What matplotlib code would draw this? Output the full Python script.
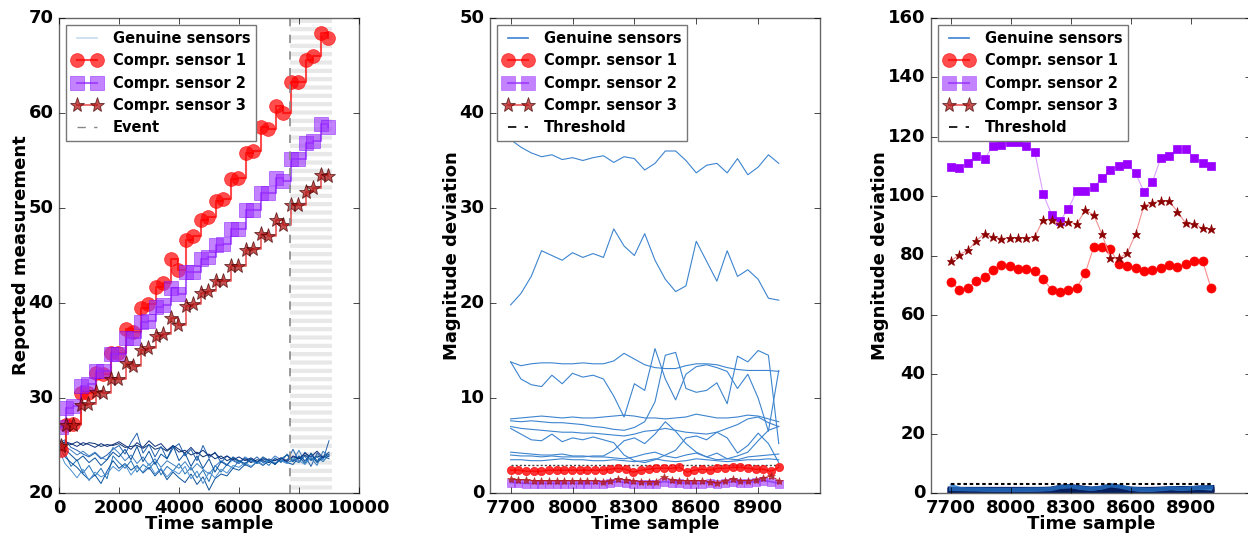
import numpy as np
import matplotlib
matplotlib.use("Agg")
import matplotlib.pyplot as plt
from matplotlib.lines import Line2D

plt.style.use("classic")
plt.rcParams["figure.facecolor"] = "white"
plt.rcParams["savefig.facecolor"] = "white"
plt.rcParams["font.family"] = ["DejaVu Sans"]
plt.rcParams["font.weight"] = "bold"
plt.rcParams["axes.labelweight"] = "bold"
plt.rcParams["hatch.linewidth"] = 3.0
plt.rcParams["axes.edgecolor"] = "#666666"

# ---- panel 1: reported measurement over the whole run ----
t_gen = np.arange(0, 9001, 200)
gen1 = [
    [24.6, 25.3, 25.1, 25.4, 25.0, 25.3, 25.2, 24.9, 25.1, 25.0,
     25.2, 24.8, 24.9, 25.0, 24.7, 25.1, 24.6, 24.8, 24.4, 24.9,
     24.3, 24.5, 24.0, 24.3, 23.8, 24.1, 23.6, 23.9, 23.4, 23.7,
     23.3, 23.6, 23.2, 23.5, 23.4, 23.2, 23.6, 23.3, 23.5, 23.8,
     23.6, 24.0, 23.5, 23.9, 23.7, 24.1],
    [25.8, 24.2, 22.8, 23.5, 22.1, 22.9, 21.8, 22.6, 21.5, 23.9,
     23.2, 22.6, 23.4, 22.2, 23.0, 22.5, 23.3, 21.9, 22.8, 22.3,
     23.1, 22.0, 22.7, 21.6, 22.4, 21.2, 22.9, 22.2, 23.0, 22.6,
     23.4, 22.9, 23.6, 23.1, 23.4, 22.9, 23.7, 23.2, 24.1, 23.5,
     23.2, 24.3, 23.4, 23.8, 23.3, 24.0],
    [25.2, 25.6, 24.8, 24.5, 24.1, 23.8, 24.2, 23.6, 24.0, 24.6,
     25.0, 24.1, 25.3, 26.3, 24.2, 25.1, 23.8, 24.9, 23.6, 24.7,
     25.2, 23.9, 24.6, 23.4, 25.0, 23.7, 24.3, 23.2, 23.9, 23.4,
     23.1, 23.7, 23.3, 23.8, 23.2, 23.6, 23.0, 23.7, 23.4, 24.6,
     23.3, 23.9, 22.8, 24.2, 23.5, 25.5],
    [24.9, 23.8, 23.2, 22.7, 22.0, 21.4, 21.9, 21.0, 22.3, 23.4,
     22.6, 23.1, 22.4, 22.9, 22.1, 22.7, 21.8, 22.5, 21.4, 22.2,
     21.6, 21.1, 22.0, 20.9, 21.7, 20.3, 21.5, 22.0, 21.8, 22.6,
     22.4, 23.0, 22.7, 23.3, 22.9, 23.4, 23.1, 23.5, 23.2, 23.0,
     23.8, 23.1, 24.2, 23.4, 23.9, 23.6],
    [24.3, 24.9, 24.5, 24.0, 24.4, 23.9, 24.3, 23.7, 23.5, 24.8,
     24.2, 23.4, 24.0, 23.1, 23.8, 22.9, 23.6, 22.7, 23.4, 23.0,
     22.6, 23.3, 22.4, 23.1, 22.5, 22.0, 22.8, 23.4, 23.0, 23.5,
     23.2, 23.8, 23.4, 23.1, 23.6, 23.3, 23.9, 23.5, 23.2, 23.4,
     24.5, 23.2, 23.7, 22.9, 24.4, 23.8],
    [25.0, 25.4, 25.2, 24.9, 25.3, 25.1, 24.8, 25.2, 24.9, 25.1,
     25.4, 25.0, 24.6, 25.3, 24.8, 25.5, 24.9, 25.2, 24.5, 25.0,
     24.6, 24.2, 24.8, 24.1, 24.5, 23.9, 24.2, 23.6, 23.9, 23.5,
     23.8, 23.4, 23.7, 23.3, 23.6, 23.5, 23.4, 23.7, 23.3, 23.9,
     23.6, 24.2, 23.8, 24.4, 23.7, 23.9],
    [24.5, 23.1, 22.4, 21.6, 22.5, 21.3, 22.2, 21.7, 22.0, 22.8,
     22.3, 23.0, 21.9, 22.7, 22.2, 23.1, 22.0, 22.6, 21.7, 22.4,
     22.0, 22.8, 21.5, 22.3, 21.0, 22.2, 21.6, 22.5, 22.1, 22.9,
     22.7, 23.2, 22.8, 23.3, 23.0, 23.5, 23.2, 23.4, 23.1, 23.6,
     23.4, 23.0, 23.8, 23.3, 23.6, 24.0],
    [25.5, 24.6, 24.0, 23.4, 23.9, 23.2, 23.7, 22.9, 23.5, 24.3,
     23.8, 24.6, 23.5, 24.9, 23.3, 24.4, 23.0, 24.1, 23.6, 25.0,
     23.4, 24.2, 22.8, 23.9, 22.6, 23.6, 22.2, 23.3, 22.9, 23.8,
     23.4, 23.1, 23.6, 23.2, 23.8, 23.4, 23.0, 23.6, 24.0, 23.3,
     23.9, 23.4, 24.1, 23.2, 23.8, 24.3],
]
gen1_colors = ["#08306b", "#2171b5", "#1f5fae", "#08519c",
               "#3a7fc4", "#0b2d7a", "#4a8fd0", "#08519c"]

t_comp = [50, 230, 480, 730, 980, 1230, 1480, 1730, 1980, 2230,
          2480, 2730, 2980, 3230, 3480, 3730, 3980, 4230, 4480, 4730,
          4980, 5230, 5480, 5730, 5980, 6230, 6480, 6730, 6980, 7230,
          7480, 7730, 7980, 8230, 8480, 8730, 8980]
comp1 = [24.5, 27.2, 27.3, 30.5, 30.5, 32.6, 32.5, 34.7, 34.7, 37.3,
         36.9, 39.5, 39.9, 41.7, 42.1, 44.6, 43.5, 46.6, 47.1, 48.7,
         49.1, 50.7, 50.9, 53.1, 53.2, 55.8, 56.0, 58.5, 58.3, 60.7,
         60.0, 63.3, 63.3, 65.6, 66.0, 68.4, 67.9]
comp2 = [27.0, 29.0, 29.2, 31.3, 31.5, 32.8, 32.8, 34.6, 34.6, 36.3,
         36.3, 38.0, 38.1, 39.6, 39.8, 41.6, 40.9, 43.3, 43.3, 44.6,
         44.8, 46.1, 46.2, 47.8, 47.8, 49.8, 49.8, 51.6, 51.6, 53.2,
         52.8, 55.2, 55.2, 56.8, 57.1, 58.8, 58.5]
comp3 = [25.0, 27.2, 27.2, 29.3, 29.4, 30.6, 30.5, 32.0, 32.0, 33.7,
         33.4, 35.1, 35.3, 36.5, 36.7, 38.4, 37.7, 39.7, 39.9, 41.1,
         41.3, 42.3, 42.3, 43.9, 43.9, 45.6, 45.7, 47.3, 47.1, 48.7,
         48.2, 50.3, 50.3, 51.7, 52.1, 53.5, 53.4]
event_start, event_end = 7700, 9100

# ---- panel 2: magnitude deviation after the event ----
t_dev = np.arange(7700, 9001, 50)
gen2 = [
    [37.2, 36.4, 35.8, 35.4, 35.6, 35.1, 35.3, 35.0, 35.3, 35.5,
     34.8, 35.4, 35.2, 34.0, 34.7, 36.0, 36.0, 35.0, 33.7, 34.5,
     34.7, 33.7, 35.2, 33.5, 34.3, 35.6, 34.7],
    [19.8, 21.0, 22.8, 25.5, 25.0, 24.5, 25.3, 24.8, 25.2, 24.8,
     27.8, 26.0, 25.0, 27.3, 24.5, 22.5, 21.2, 21.8, 26.5, 24.4,
     22.3, 25.5, 22.8, 23.5, 22.5, 20.5, 20.3],
    [13.8, 13.4, 13.6, 13.7, 13.7, 13.6, 13.6, 13.7, 13.6, 13.6,
     13.9, 14.7, 14.1, 13.5, 13.2, 13.1, 13.1, 13.4, 13.6, 13.6,
     13.5, 13.2, 13.0, 12.9, 12.9, 12.9, 12.8],
    [13.8, 12.0, 11.4, 11.2, 12.4, 11.5, 12.6, 12.2, 12.4, 12.0,
     10.2, 8.0, 11.5, 10.8, 15.2, 12.0, 9.8, 12.5, 13.3, 13.5,
     13.2, 12.8, 11.0, 12.5, 10.0, 6.5, 12.9],
    [7.6, 7.5, 7.6, 7.5, 7.4, 7.4, 7.3, 7.2, 7.0, 6.9,
     6.7, 6.6, 6.9, 7.5, 9.6, 14.5, 14.8, 11.0, 10.6, 10.8,
     11.6, 9.4, 14.4, 13.8, 15.0, 14.5, 5.2],
    [7.8, 7.9, 8.0, 8.1, 8.0, 7.9, 8.0, 7.9, 7.9, 8.0,
     8.1, 8.2, 8.1, 7.9, 7.9, 7.8, 7.9, 8.0, 8.3, 8.1,
     7.9, 7.9, 8.0, 8.2, 8.1, 7.8, 7.5],
    [7.0, 6.8, 6.7, 6.6, 6.5, 6.4, 6.4, 6.3, 6.3, 6.2,
     6.1, 6.0, 6.2, 6.5, 6.6, 6.8, 6.6, 6.4, 6.3, 6.2,
     6.4, 6.8, 7.2, 7.8, 8.0, 7.4, 7.0],
    [6.8, 6.2, 5.6, 5.5, 6.2, 5.4, 5.8, 5.6, 5.9, 5.6,
     5.3, 4.0, 3.4, 3.2, 3.5, 4.0, 4.5, 5.8, 6.0, 5.6,
     6.4, 5.8, 4.2, 5.0, 6.3, 5.2, 3.2],
    [4.0, 3.9, 3.9, 3.8, 3.9, 3.8, 3.8, 3.8, 3.9, 3.9,
     4.5, 5.5, 5.8, 5.2, 6.2, 7.5, 6.5, 5.2, 4.3, 3.8,
     3.5, 3.6, 3.9, 4.3, 5.5, 6.6, 7.0],
    [4.3, 4.2, 4.1, 4.0, 4.0, 4.1, 3.9, 3.9, 3.8, 3.8,
     3.7, 3.6, 3.8, 4.1, 4.3, 3.9, 3.7, 4.0, 4.2, 3.8,
     4.2, 3.6, 3.5, 3.8, 3.9, 4.0, 4.1],
    [3.5, 3.5, 3.4, 3.4, 3.5, 3.6, 3.5, 3.5, 3.4, 3.4,
     3.5, 3.4, 3.3, 3.4, 3.6, 3.4, 3.3, 3.4, 3.6, 3.5,
     3.4, 3.3, 3.4, 3.5, 3.5, 3.6, 3.5],
]
t_dev_m2 = np.linspace(7700, 9000, 36)
dev2_c1 = [2.4, 2.4, 2.3, 2.3, 2.3, 2.4, 2.4, 2.4, 2.4, 2.4,
           2.4, 2.4, 2.4, 2.5, 2.6, 2.5, 2.2, 2.4, 2.5, 2.6,
           2.6, 2.6, 2.7, 2.2, 2.4, 2.5, 2.4, 2.6, 2.6, 2.7,
           2.7, 2.6, 2.5, 2.5, 2.3, 2.7]
dev2_c2 = [1.1, 1.1, 1.0, 1.0, 1.0, 1.0, 1.0, 1.0, 1.0, 1.0,
           1.0, 1.0, 1.0, 1.1, 1.2, 1.1, 1.0, 1.0, 1.0, 1.0,
           1.2, 1.1, 1.1, 1.0, 1.0, 1.0, 1.1, 1.0, 1.1, 1.2,
           1.1, 1.1, 1.2, 1.3, 1.2, 1.0]
dev2_c3 = [1.5, 1.4, 1.4, 1.3, 1.3, 1.3, 1.3, 1.3, 1.3, 1.3,
           1.3, 1.3, 1.2, 1.3, 1.5, 1.4, 1.3, 1.2, 1.2, 1.2,
           1.7, 1.4, 1.3, 1.3, 1.3, 1.3, 1.2, 1.1, 1.3, 1.5,
           1.3, 1.3, 1.4, 1.6, 1.8, 1.3]
threshold = 3.0

# ---- panel 3: deviation with compromised sensors ----
gen3 = [
    [1.0, 0.9, 0.9, 0.9, 0.9, 0.9, 0.9, 0.9, 0.9, 0.9,
     1.0, 1.6, 1.8, 1.4, 1.0, 1.2, 1.5, 1.3, 1.0, 0.9,
     0.9, 1.0, 1.1, 1.2, 1.2, 1.4, 1.5],
    [0.5, 0.5, 0.5, 0.5, 0.5, 0.5, 0.5, 0.5, 0.5, 0.6,
     0.6, 0.7, 0.8, 0.6, 0.6, 0.7, 0.8, 0.7, 0.6, 0.5,
     0.5, 0.6, 0.6, 0.6, 0.7, 0.7, 0.8],
    [2.8, 1.6, 1.1, 0.9, 0.8, 0.8, 0.8, 0.8, 0.8, 0.9,
     1.1, 1.9, 2.0, 1.5, 1.1, 1.5, 2.4, 2.0, 1.1, 0.8,
     0.8, 1.1, 1.4, 1.1, 1.3, 1.4, 1.2],
    [1.4, 1.3, 1.2, 1.2, 1.1, 1.1, 1.1, 1.1, 1.2, 1.2,
     1.3, 2.1, 2.3, 1.7, 1.4, 1.8, 2.6, 2.1, 1.4, 1.2,
     1.1, 1.3, 1.6, 1.4, 1.6, 1.8, 1.9],
]
gen3_styles = [("#08206b", 5.0), ("#061f5e", 5.0), ("#4a90d9", 1.5), ("#1f5fae", 3.0)]
t_dev_m3 = np.linspace(7700, 9000, 32)
dev3_c1 = [71.1, 68.5, 69.0, 71.3, 72.8, 75.1, 76.8, 76.3, 75.3, 75.3,
           74.8, 72.0, 68.5, 67.7, 68.5, 69.2, 74.0, 82.7, 82.7, 82.2,
           77.1, 76.4, 75.9, 74.8, 75.0, 75.7, 76.8, 76.1, 77.2, 78.2,
           78.2, 69.0]
dev3_c2 = [109.7, 109.5, 111.2, 113.5, 112.4, 117.0, 117.3, 118.1, 118.1, 117.0,
           114.7, 100.6, 93.8, 91.7, 95.8, 101.7, 101.7, 103.0, 106.1, 108.9,
           110.1, 110.7, 107.8, 101.5, 104.6, 112.8, 113.5, 115.8, 115.8, 113.0,
           111.2, 110.3]
dev3_c3 = [78.2, 80.3, 81.7, 84.9, 87.4, 86.2, 85.7, 86.0, 86.0, 85.8,
           86.4, 92.1, 92.1, 90.6, 91.4, 90.6, 95.2, 93.8, 87.2, 79.1,
           79.1, 80.8, 87.2, 96.7, 97.8, 98.3, 98.3, 94.8, 90.8, 90.6,
           89.2, 88.9]

labels = ["Genuine sensors", "Compr. sensor 1", "Compr. sensor 2", "Compr. sensor 3"]
c1_col, c2_col, c2_face, c3_col = "red", "#7a00ff", "#9b30ff", "#b01515"

fig = plt.figure(figsize=(12.48, 5.35), dpi=100)
W, H = 1248.0, 535.0
ax1 = fig.add_axes([59 / W, 42 / H, 300 / W, 475 / H])
ax2 = fig.add_axes([490 / W, 42 / H, 330 / W, 475 / H])
ax3 = fig.add_axes([931 / W, 42 / H, 320 / W, 475 / H])

# panel 1
ax1.axvspan(event_start, event_end, facecolor="none", edgecolor="#e8e8e8",
            hatch="--", linewidth=0)
for vals, col in zip(gen1, gen1_colors):
    ax1.plot(t_gen, vals, color=col, lw=0.7)
ax1.plot(t_comp, comp1, color=c1_col, lw=1.5, drawstyle="steps-post",
         marker="o", ms=10, mfc="red", mec="red", alpha=0.7)
ax1.plot(t_comp, comp2, color=c2_col, lw=1.5, drawstyle="steps-post",
         marker="s", ms=10, mfc=c2_face, mec=c2_col, alpha=0.6)
ax1.plot(t_comp, comp3, color="#e02020", lw=1.2, drawstyle="steps-post",
         marker="*", ms=11, mfc=c3_col, mec="#400000", mew=0.6, alpha=0.75)
ax1.axvline(event_start, color="#888888", ls="--", lw=1.2)
ax1.set_xlim(0, 10000)
ax1.set_ylim(20, 70)
ax1.set_xticks([0, 2000, 4000, 6000, 8000, 10000])
ax1.set_ylabel("Reported measurement", fontsize=13, labelpad=-1)

h1 = [Line2D([], [], color="#c6dcef", lw=1.2),
      Line2D([], [], color=c1_col, lw=1.5, marker="o", ms=10, mfc="red", mec="red", alpha=0.7),
      Line2D([], [], color=c2_col, lw=1.5, marker="s", ms=10, mfc=c2_face, mec=c2_col, alpha=0.6),
      Line2D([], [], color="#e02020", lw=1.2, marker="*", ms=11, mfc=c3_col, mec="#400000",
             mew=0.6, alpha=0.75),
      Line2D([], [], color="#888888", ls="--", lw=1.0)]
leg = ax1.legend(h1, labels + ["Event"], loc="upper left", fontsize=10.5)
leg.get_frame().set_edgecolor("#777777")

# panel 2
for vals in gen2:
    ax2.plot(t_dev, vals, color="#3c84cf", lw=0.8)
ax2.plot([t_dev[0], t_dev[-1]], [threshold, threshold], color="#444444",
         ls=(0, (1.5, 1.5)), lw=1.0)
ax2.plot(t_dev_m2, dev2_c1, color="red", lw=1.0, marker="o", ms=6,
         mfc="red", mec="red", alpha=0.8)
ax2.plot(t_dev_m2, dev2_c2, color="#3a00c8", lw=1.2, marker="s", ms=6,
         mfc=c2_face, mec=c2_face, alpha=0.6)
ax2.plot(t_dev_m2, dev2_c3, color="#c02020", lw=0.8, marker="*", ms=6,
         mfc=c3_col, mec=c3_col, alpha=0.75)
ax2.set_xlim(7600, 9200)
ax2.set_ylim(0, 50)
ax2.set_xticks([7700, 8000, 8300, 8600, 8900])
ax2.set_ylabel("Magnitude deviation", fontsize=13, labelpad=-1)

h2 = [Line2D([], [], color="#3c84cf", lw=1.2),
      Line2D([], [], color="red", lw=1.5, marker="o", ms=10, mfc="red", mec="red", alpha=0.7),
      Line2D([], [], color=c2_col, lw=1.5, marker="s", ms=10, mfc=c2_face, mec=c2_face, alpha=0.6),
      Line2D([], [], color="#e02020", lw=1.2, marker="*", ms=11, mfc=c3_col, mec="#400000",
             mew=0.6, alpha=0.75),
      Line2D([], [], color="black", ls="--", lw=1.2)]
leg = ax2.legend(h2, labels + ["Threshold"], loc="upper left", fontsize=10.5)
leg.get_frame().set_edgecolor("#777777")

# panel 3
for vals, (col, lw) in zip(gen3, gen3_styles):
    ax3.plot(t_dev, vals, color=col, lw=lw)
ax3.plot([t_dev[0], t_dev[-1]], [threshold, threshold], color="black",
         ls=(0, (2.5, 2)), lw=1.5)
ax3.plot(t_dev_m3, dev3_c1, color="#ff8a8a", lw=0.8, marker="o", ms=6.5,
         mfc="red", mec="red")
ax3.plot(t_dev_m3, dev3_c2, color="#dda0ff", lw=0.8, marker="s", ms=5.5,
         mfc="#9900ff", mec="#9900ff")
ax3.plot(t_dev_m3, dev3_c3, color="#f09090", lw=0.8, marker="*", ms=6.5,
         mfc="#8b0000", mec="#8b0000")
ax3.set_xlim(7600, 9200)
ax3.set_ylim(0, 160)
ax3.set_xticks([7700, 8000, 8300, 8600, 8900])
ax3.set_yticks(range(0, 161, 20))
ax3.set_ylabel("Magnitude deviation", fontsize=13, labelpad=-1)
leg = ax3.legend(h2, labels + ["Threshold"], loc="upper left", fontsize=10.5)
leg.get_frame().set_edgecolor("#777777")

for ax in (ax1, ax2, ax3):
    ax.set_xlabel("Time sample", fontsize=13, labelpad=-1)
    ax.tick_params(labelsize=13)
    for lab in ax.get_xticklabels() + ax.get_yticklabels():
        lab.set_fontweight("bold")

fig.savefig("out.png", dpi=100)
